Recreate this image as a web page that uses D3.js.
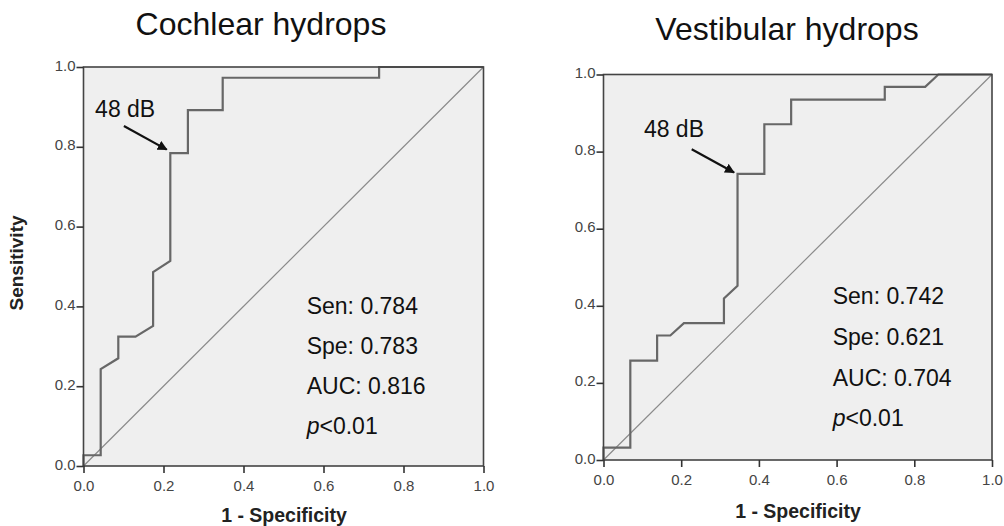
<!DOCTYPE html>
<html>
<head>
<meta charset="utf-8">
<script src="https://cdn.jsdelivr.net/npm/d3@7"></script>
<style>
  body { margin: 0; background: #fff; }
  svg { display: block; font-family: "Liberation Sans", Arial, sans-serif; }
</style>
</head>
<body>
<div id="output"></div>
<script>
// ROC vertices (1 - specificity, sensitivity)
const cochlearFpr = [0, 0, 0.043, 0.043, 0.087, 0.087, 0.130, 0.174, 0.174, 0.217, 0.217, 0.261, 0.261, 0.348, 0.348, 0.739, 0.739, 1];
const cochlearTpr = [0, 0.027, 0.027, 0.243, 0.270, 0.324, 0.324, 0.351, 0.486, 0.514, 0.784, 0.784, 0.892, 0.892, 0.973, 0.973, 1, 1];
const vestibularFpr = [0, 0, 0.069, 0.069, 0.138, 0.138, 0.172, 0.207, 0.310, 0.310, 0.345, 0.345, 0.414, 0.414, 0.483, 0.483, 0.724, 0.724, 0.828, 0.862, 1];
const vestibularTpr = [0, 0.032, 0.032, 0.258, 0.258, 0.323, 0.323, 0.355, 0.355, 0.419, 0.452, 0.742, 0.742, 0.871, 0.871, 0.935, 0.935, 0.968, 0.968, 1, 1];

const tickValues = [0, 0.2, 0.4, 0.6, 0.8, 1.0];
const titles = ["Cochlear hydrops", "Vestibular hydrops"];
const cochlearStats = ["Sen: 0.784", "Spe: 0.783", "AUC: 0.816"];
const vestibularStats = ["Sen: 0.742", "Spe: 0.621", "AUC: 0.704"];
const cutoffLabel = "48 dB";

const svg = d3.select("#output").append("svg")
  .attr("width", 1004)
  .attr("height", 526);

svg.append("defs").append("marker")
  .attr("id", "head")
  .attr("viewBox", "0 0 10 10")
  .attr("refX", 9).attr("refY", 5)
  .attr("markerWidth", 4.5).attr("markerHeight", 4.5)
  .attr("markerUnits", "strokeWidth")
  .attr("orient", "auto")
  .append("path")
  .attr("d", "M0,0L10,5L0,10z")
  .attr("fill", "#111");

// one panel per hydrops type
const panels = [
  {
    fpr: cochlearFpr, tpr: cochlearTpr, title: titles[0], stats: cochlearStats,
    x0: 83.5, x1: 483.5, y0: 466, y1: 67,
    titleX: 261, titleY: 35, xLabelX: 284, xLabelY: 522, yLabel: true,
    text: [0.558, 0.380, 0.100], cut: [0.029, 0.875], arrow: [0.101, 0.852, 0.208, 0.793]
  },
  {
    fpr: vestibularFpr, tpr: vestibularTpr, title: titles[1], stats: vestibularStats,
    x0: 603.5, x1: 992, y0: 460, y1: 74.5,
    titleX: 787, titleY: 40, xLabelX: 798, xLabelY: 518, yLabel: false,
    text: [0.590, 0.405, 0.106], cut: [0.104, 0.837], arrow: [0.227, 0.806, 0.336, 0.746]
  }
];

panels.forEach(p => {
  const x = d3.scaleLinear().domain([0, 1]).range([p.x0, p.x1]);
  const y = d3.scaleLinear().domain([0, 1]).range([p.y0, p.y1]);
  const g = svg.append("g");

  g.append("rect")
    .attr("x", x(0)).attr("y", y(1))
    .attr("width", x(1) - x(0)).attr("height", y(0) - y(1))
    .attr("fill", "#efefef");

  // reference diagonal
  g.append("line")
    .attr("x1", x(0)).attr("y1", y(0))
    .attr("x2", x(1)).attr("y2", y(1))
    .attr("stroke", "#8a8a8a")
    .attr("stroke-width", 1.2);

  const pts = p.fpr.map((d, i) => [d, p.tpr[i]]);
  g.append("path")
    .datum(pts)
    .attr("fill", "none")
    .attr("stroke", "#676767")
    .attr("stroke-width", 2.2)
    .attr("d", d3.line().x(d => x(d[0])).y(d => y(d[1])));

  // frame
  g.append("rect")
    .attr("x", x(0)).attr("y", y(1))
    .attr("width", x(1) - x(0)).attr("height", y(0) - y(1))
    .attr("fill", "none")
    .attr("stroke", "#444")
    .attr("stroke-width", 1.6);

  const xAxis = g.append("g")
    .attr("transform", `translate(0,${y(0)})`)
    .call(d3.axisBottom(x).tickValues(tickValues).tickSize(7).tickSizeOuter(0).tickFormat(d3.format(".1f")));
  const yAxis = g.append("g")
    .attr("transform", `translate(${x(0)},0)`)
    .call(d3.axisLeft(y).tickValues(tickValues).tickSize(7).tickSizeOuter(0).tickFormat(d3.format(".1f")));

  [xAxis, yAxis].forEach(a => {
    a.attr("font-size", 15).attr("font-family", "Liberation Sans, Arial, sans-serif");
    a.select(".domain").remove();
    a.selectAll(".tick line").attr("stroke", "#333").attr("stroke-width", 1.6);
    a.selectAll(".tick text").attr("fill", "#444");
  });
  xAxis.selectAll(".tick text").attr("dy", "1em");
  yAxis.selectAll(".tick text").attr("x", -8).attr("dy", "0.2em");

  g.append("text")
    .attr("x", p.titleX).attr("y", p.titleY)
    .attr("text-anchor", "middle")
    .attr("font-size", 32)
    .attr("fill", "#111")
    .text(p.title);

  g.append("text")
    .attr("x", p.xLabelX).attr("y", p.xLabelY)
    .attr("text-anchor", "middle")
    .attr("font-size", 19.5)
    .attr("font-weight", "bold")
    .attr("fill", "#222")
    .text("1 - Specificity");

  if (p.yLabel) {
    g.append("text")
      .attr("transform", "translate(23,263) rotate(-90)")
      .attr("text-anchor", "middle")
      .attr("font-size", 19)
      .attr("font-weight", "bold")
      .attr("fill", "#222")
      .text("Sensitivity");
  }

  // stats block
  const lineStep = p.text[2];
  p.stats.forEach((s, i) => {
    g.append("text")
      .attr("x", x(p.text[0])).attr("y", y(p.text[1] - i * lineStep))
      .attr("font-size", 23)
      .attr("fill", "#111")
      .text(s);
  });
  const pt = g.append("text")
    .attr("x", x(p.text[0])).attr("y", y(p.text[1] - 3 * lineStep))
    .attr("font-size", 23)
    .attr("fill", "#111");
  pt.append("tspan").attr("font-style", "italic").text("p");
  pt.append("tspan").text("<0.01");

  // cutoff annotation
  g.append("text")
    .attr("x", x(p.cut[0])).attr("y", y(p.cut[1]))
    .attr("font-size", 23)
    .attr("fill", "#111")
    .text(cutoffLabel);

  g.append("line")
    .attr("x1", x(p.arrow[0])).attr("y1", y(p.arrow[1]))
    .attr("x2", x(p.arrow[2])).attr("y2", y(p.arrow[3]))
    .attr("stroke", "#111")
    .attr("stroke-width", 2.2)
    .attr("marker-end", "url(#head)");
});
</script>
</body>
</html>
